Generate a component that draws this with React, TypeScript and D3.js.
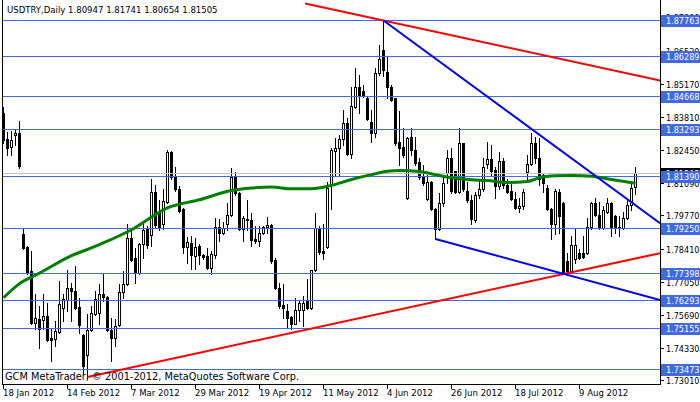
import React from 'react';
import * as d3 from 'd3';

const symbolTitle = 'USDTRY,Daily';
const lastQuote = [1.80947, 1.81741, 1.80654, 1.81505];
const copyright = 'GCM MetaTrader, \u00A9 2001-2012, MetaQuotes Software Corp.';

const opens = [
  1.8396, 1.8289, 1.8256, 1.8305, 1.8313, 1.7902, 1.7849, 1.7750, 1.7536, 1.7553,
  1.7549, 1.7565, 1.7475, 1.7470, 1.7499, 1.7598, 1.7631, 1.7680, 1.7668, 1.7602,
  1.7487, 1.7405, 1.7507, 1.7573, 1.7577, 1.7656, 1.7643, 1.7507, 1.7475, 1.7528,
  1.7664, 1.7697, 1.7886, 1.7804, 1.7742, 1.7861, 1.7923, 1.7898, 1.8071, 1.7985,
  1.7943, 1.8030, 1.8235, 1.8133, 1.8087, 1.8005, 1.7849, 1.7865, 1.7812, 1.7853,
  1.7816, 1.7812, 1.7762, 1.7816, 1.7931, 1.7906, 1.7943, 1.7980, 1.8133, 1.8067,
  1.7923, 1.7964, 1.7956, 1.7882, 1.7873, 1.7906, 1.7931, 1.7939, 1.7795, 1.7680,
  1.7610, 1.7586, 1.7561, 1.7532, 1.7590, 1.7590, 1.7627, 1.7598, 1.7754, 1.7927,
  1.7832, 1.7849, 1.8100, 1.8239, 1.8252, 1.8289, 1.8355, 1.8227, 1.8420, 1.8503,
  1.8486, 1.8457, 1.8359, 1.8313, 1.8560, 1.8655, 1.8564, 1.8503, 1.8457, 1.8276,
  1.8256, 1.8050, 1.8297, 1.8244, 1.8194, 1.8133, 1.8046, 1.8112, 1.8005, 1.7923,
  1.8026, 1.8149, 1.8211, 1.8157, 1.8071, 1.8272, 1.8079, 1.8038, 1.7960, 1.8059,
  1.8087, 1.8186, 1.8207, 1.8165, 1.8096, 1.8202, 1.8100, 1.8075, 1.8046, 1.8009,
  1.8017, 1.8153, 1.8186, 1.8272, 1.8211, 1.8141, 1.8091, 1.8005, 1.7943, 1.8071,
  1.8026, 1.7791, 1.7750, 1.7799, 1.7824, 1.7824, 1.7824, 1.7931, 1.8026, 1.7980,
  1.7927, 1.7989, 1.8026, 1.7976, 1.7931, 1.7927, 1.7968, 1.8021, 1.80947,
];
const highs = [
  1.8420, 1.8318, 1.8322, 1.8326, 1.8363, 1.7923, 1.7853, 1.7832, 1.7656, 1.7606,
  1.7656, 1.7619, 1.7516, 1.7545, 1.7709, 1.7656, 1.7754, 1.7701, 1.7771, 1.7639,
  1.7491, 1.7573, 1.7606, 1.7668, 1.7697, 1.7738, 1.7647, 1.7557, 1.7553, 1.7697,
  1.7750, 1.7943, 1.7923, 1.7845, 1.7865, 1.7948, 1.7935, 1.8128, 1.8100, 1.8038,
  1.8087, 1.8244, 1.8239, 1.8174, 1.8096, 1.8009, 1.7890, 1.7894, 1.7886, 1.7861,
  1.7818, 1.7845, 1.7832, 1.7968, 1.7964, 1.7948, 1.8026, 1.8170, 1.8153, 1.8071,
  1.7976, 1.8038, 1.7985, 1.7935, 1.7935, 1.7935, 1.7972, 1.7941, 1.7804, 1.7701,
  1.7697, 1.7614, 1.7565, 1.7639, 1.7627, 1.7647, 1.7717, 1.7754, 1.7985, 1.7935,
  1.7943, 1.8112, 1.8252, 1.8293, 1.8305, 1.8408, 1.8375, 1.8503, 1.8581, 1.8552,
  1.8511, 1.8462, 1.8408, 1.8581, 1.8675, 1.87763, 1.8630, 1.8511, 1.8459, 1.8404,
  1.8334, 1.8297, 1.8334, 1.8297, 1.8211, 1.8182, 1.8141, 1.8120, 1.8007, 1.8067,
  1.8141, 1.8244, 1.8252, 1.8161, 1.8334, 1.8274, 1.8112, 1.8059, 1.8071, 1.8128,
  1.8211, 1.8276, 1.8264, 1.8174, 1.8235, 1.8211, 1.8128, 1.8112, 1.8071, 1.8050,
  1.8087, 1.8223, 1.8313, 1.8297, 1.8293, 1.8149, 1.8100, 1.8009, 1.8087, 1.8087,
  1.8030, 1.7824, 1.7894, 1.7923, 1.7841, 1.7894, 1.7968, 1.8030, 1.8050, 1.8030,
  1.8017, 1.8050, 1.8030, 1.7980, 1.7976, 1.7989, 1.8038, 1.8112, 1.81741,
];
const lows = [
  1.8272, 1.8223, 1.8223, 1.8264, 1.8170, 1.7841, 1.7738, 1.7533, 1.7512, 1.7434,
  1.7512, 1.7462, 1.7380, 1.7442, 1.7495, 1.7545, 1.7586, 1.7545, 1.7594, 1.7495,
  1.7331, 1.7310, 1.7503, 1.7569, 1.7532, 1.7627, 1.7503, 1.7380, 1.7442, 1.7524,
  1.7639, 1.7693, 1.7791, 1.7701, 1.7738, 1.7804, 1.7845, 1.7853, 1.7927, 1.7915,
  1.7923, 1.8026, 1.8128, 1.8079, 1.7989, 1.7824, 1.7783, 1.7758, 1.7758, 1.7779,
  1.7799, 1.7758, 1.7738, 1.7804, 1.7873, 1.7902, 1.7915, 1.7976, 1.8059, 1.7915,
  1.7873, 1.7915, 1.7853, 1.7865, 1.7853, 1.7902, 1.7906, 1.7783, 1.7676, 1.7598,
  1.7557, 1.7516, 1.7512, 1.7530, 1.7545, 1.7524, 1.7594, 1.7594, 1.7750, 1.7820,
  1.7799, 1.7845, 1.8005, 1.8141, 1.8141, 1.8264, 1.8223, 1.8211, 1.8416, 1.8396,
  1.8462, 1.8367, 1.8276, 1.8297, 1.8552, 1.8548, 1.8457, 1.8445, 1.8264, 1.8182,
  1.8215, 1.8046, 1.8223, 1.8182, 1.8128, 1.8100, 1.8038, 1.7997, 1.7882, 1.7915,
  1.8017, 1.8108, 1.8067, 1.8067, 1.8067, 1.8079, 1.8030, 1.7943, 1.7948, 1.8050,
  1.8079, 1.8170, 1.8141, 1.8050, 1.8087, 1.8091, 1.8067, 1.8038, 1.8005, 1.7989,
  1.8005, 1.8128, 1.8182, 1.8190, 1.8100, 1.8071, 1.8001, 1.7882, 1.7902, 1.7906,
  1.7738, 1.7738, 1.7742, 1.7783, 1.7799, 1.7804, 1.7820, 1.7923, 1.7976, 1.7923,
  1.7923, 1.7985, 1.7894, 1.7906, 1.7894, 1.7923, 1.7964, 1.7997, 1.80654,
];
const closes = [
  1.8285, 1.8252, 1.8285, 1.8313, 1.8178, 1.7845, 1.7742, 1.7536, 1.7557, 1.7512,
  1.7565, 1.7466, 1.7466, 1.7503, 1.7614, 1.7635, 1.7680, 1.7668, 1.7598, 1.7528,
  1.7360, 1.7507, 1.7577, 1.7635, 1.7656, 1.7643, 1.7507, 1.7475, 1.7524, 1.7664,
  1.7697, 1.7886, 1.7795, 1.7742, 1.7861, 1.7919, 1.7857, 1.8071, 1.7939, 1.7927,
  1.8034, 1.8235, 1.8133, 1.8087, 1.7993, 1.7849, 1.7869, 1.7816, 1.7849, 1.7816,
  1.7808, 1.7762, 1.7820, 1.7931, 1.7906, 1.7927, 1.7980, 1.8133, 1.8067, 1.7923,
  1.7968, 1.7956, 1.7878, 1.7873, 1.7906, 1.7931, 1.7939, 1.7791, 1.7680, 1.7606,
  1.7598, 1.7557, 1.7532, 1.7590, 1.7619, 1.7619, 1.7598, 1.7754, 1.7927, 1.7828,
  1.7824, 1.8091, 1.8244, 1.8252, 1.8289, 1.8355, 1.8227, 1.8424, 1.8503, 1.8470,
  1.8466, 1.8371, 1.8313, 1.8560, 1.8618, 1.8573, 1.8503, 1.8449, 1.8272, 1.8252,
  1.8223, 1.8295, 1.8244, 1.8190, 1.8133, 1.8108, 1.8112, 1.8005, 1.7923, 1.8026,
  1.8108, 1.8211, 1.8075, 1.8071, 1.8272, 1.8087, 1.8038, 1.7964, 1.8059, 1.8087,
  1.8174, 1.8207, 1.8157, 1.8096, 1.8202, 1.8100, 1.8071, 1.8046, 1.8009, 1.8017,
  1.8071, 1.8186, 1.8272, 1.8211, 1.8128, 1.8108, 1.8005, 1.7943, 1.8075, 1.7976,
  1.7742, 1.7750, 1.7857, 1.7857, 1.7804, 1.7808, 1.7931, 1.8026, 1.7980, 1.7927,
  1.7997, 1.8026, 1.7931, 1.7927, 1.7927, 1.7968, 1.8021, 1.8091, 1.81505,
];

const dateTickBars = [0, 16, 32, 48, 64, 80, 96, 112, 128, 144];
const dateTickLabels = [
  '18 Jan 2012', '14 Feb 2012', '7 Mar 2012', '29 Mar 2012', '19 Apr 2012',
  '11 May 2012', '4 Jun 2012', '26 Jun 2012', '18 Jul 2012', '9 Aug 2012',
];
const priceTicks = [1.8789, 1.8653, 1.8517, 1.8381, 1.8245, 1.8109, 1.7977, 1.7841, 1.7705, 1.7569, 1.7433, 1.7301];
const levelPrices = [1.87763, 1.86289, 1.84668, 1.83293, 1.8139, 1.7925, 1.77398, 1.76293, 1.75155, 1.73473];

const maBars = [0, 4, 9, 16, 24, 32, 41, 49, 57, 62, 67, 72, 77, 82, 87, 92, 96, 99, 104, 108, 112, 117, 121, 126, 131, 134, 138, 142, 147, 152, 158];
const maValues = [1.7639, 1.7697, 1.7740, 1.7804, 1.7857, 1.7918, 1.8008, 1.8041, 1.8079, 1.8089, 1.8093, 1.8086, 1.8086, 1.8100, 1.8124, 1.8144, 1.8158, 1.8161, 1.8157, 1.8144, 1.8131, 1.8123, 1.8120, 1.8112, 1.8116, 1.8131, 1.8139, 1.8141, 1.8137, 1.8124, 1.8109];

const trendStartBar = [75.4, 21, 95, 108];
const trendStartPrice = [1.8846, 1.7314, 1.87763, 1.788];
const trendEndBar = [95, 141, 150, 141];
const trendEndPrice = [1.87763, 1.774, 1.8115, 1.7733];
const trendColors = ['#FF0000', '#FF0000', '#0000FF', '#0000FF'];

const FONT = "Tahoma, 'DejaVu Sans Condensed', 'Liberation Sans', Arial, sans-serif";

export default function App() {
  const left = 2;
  const right = 660;
  const top = 0;
  const bottom = 384;
  const x = d3.scaleLinear().domain([0, 158]).range([3.5, 635.5]);
  const y = d3.scaleLinear().domain([1.72854, 1.88603]).range([bottom, top]);
  const fmt = d3.format('.5f');
  const ry = (p: number) => Math.round(y(p));

  const maLine = d3
    .line<number>()
    .x((_, k) => x(maBars[k]))
    .y((v) => y(v))
    .curve(d3.curveMonotoneX)(maValues);

  const rays = trendStartBar.map((b, k) => {
    const x1 = x(b);
    const y1 = y(trendStartPrice[k]);
    const x2 = x(trendEndBar[k]);
    const y2 = y(trendEndPrice[k]);
    const slope = (y2 - y1) / (x2 - x1);
    return { x1, y1, x2: right, y2: y1 + slope * (right - x1), color: trendColors[k] };
  });

  const closeLast = lastQuote[3];
  const axisFont = 9;

  return (
    <svg
      width={700}
      height={402}
      style={{ position: 'fixed', left: 0, top: 0, background: '#fff' }}
      fontFamily={FONT}
    >
      <rect x={0} y={0} width={700} height={402} fill="#fff" />
      <defs>
        <clipPath id="plot">
          <rect x={left + 1} y={top} width={right - left - 1} height={bottom - top} />
        </clipPath>
      </defs>

      <g clipPath="url(#plot)">
        {opens.map((o, i) => {
          const c = closes[i];
          const xc = x(i);
          const yH = ry(highs[i]);
          const yL = ry(lows[i]);
          const yO = ry(o);
          const yC = ry(c);
          const bull = c >= o;
          const yTop = Math.min(yO, yC);
          const h = Math.abs(yO - yC);
          return (
            <g key={i}>
              <line x1={xc} x2={xc} y1={yH} y2={yL + 1} stroke="#000" strokeWidth={1} />
              {h === 0 ? (
                <line x1={xc - 1.5} x2={xc + 1.5} y1={yTop + 0.5} y2={yTop + 0.5} stroke="#000" />
              ) : bull ? (
                <rect x={xc - 1} y={yTop + 0.5} width={2} height={h} fill="#fff" stroke="#000" strokeWidth={1} />
              ) : (
                <rect x={xc - 1.5} y={yTop} width={3} height={h + 1} fill="#000" />
              )}
            </g>
          );
        })}

        <line x1={left} x2={right} y1={ry(closeLast) + 0.5} y2={ry(closeLast) + 0.5} stroke="#C0C0C0" strokeWidth={1} />

        {levelPrices.map((p) => (
          <line key={p} x1={left} x2={right} y1={ry(p) + 0.5} y2={ry(p) + 0.5} stroke="#4169E1" strokeWidth={1} />
        ))}

        <path d={maLine || ''} fill="none" stroke="#008000" strokeWidth={3} />

        {rays.map((r, k) => (
          <line key={k} x1={r.x1} y1={r.y1} x2={r.x2} y2={r.y2} stroke={r.color} strokeWidth={2} />
        ))}
      </g>

      <line x1={left + 0.5} x2={left + 0.5} y1={0} y2={bottom + 0.5} stroke="#000" />
      <line x1={right + 0.5} x2={right + 0.5} y1={0} y2={bottom + 0.5} stroke="#000" />
      <line x1={left} x2={right + 1} y1={bottom + 0.5} y2={bottom + 0.5} stroke="#000" />

      <text x={7} y={13} fontSize={9.5} fill="#000">
        {symbolTitle + '  ' + lastQuote.map(fmt).join(' ')}
      </text>
      <text x={5} y={380} fontSize={10.5} fill="#000" textLength={294} lengthAdjust="spacingAndGlyphs">
        {copyright}
      </text>

      {dateTickBars.map((b, k) => (
        <g key={b}>
          <line x1={x(b)} x2={x(b)} y1={bottom + 1} y2={bottom + 5} stroke="#000" />
          <text x={x(b) - 0.5} y={396} fontSize={9.5} fill="#000">
            {dateTickLabels[k]}
          </text>
        </g>
      ))}

      {priceTicks.map((p) => (
        <g key={p}>
          <line x1={right + 1} x2={right + 4} y1={ry(p) + 0.5} y2={ry(p) + 0.5} stroke="#000" />
          <text x={666} y={ry(p) + 3.5} fontSize={axisFont} fill="#000">
            {fmt(p)}
          </text>
        </g>
      ))}

      <rect x={right + 1} y={ry(closeLast) - 5} width={700 - right - 1} height={12} fill="#000" />
      <text x={666} y={ry(closeLast) + 4} fontSize={axisFont} fill="#fff">
        {fmt(closeLast)}
      </text>

      {levelPrices.map((p) => (
        <g key={p}>
          <rect x={right + 1} y={ry(p) - 5} width={700 - right - 1} height={12} fill="#4169E1" />
          <text x={666} y={ry(p) + 4} fontSize={axisFont} fill="#fff">
            {fmt(p)}
          </text>
        </g>
      ))}
    </svg>
  );
}
